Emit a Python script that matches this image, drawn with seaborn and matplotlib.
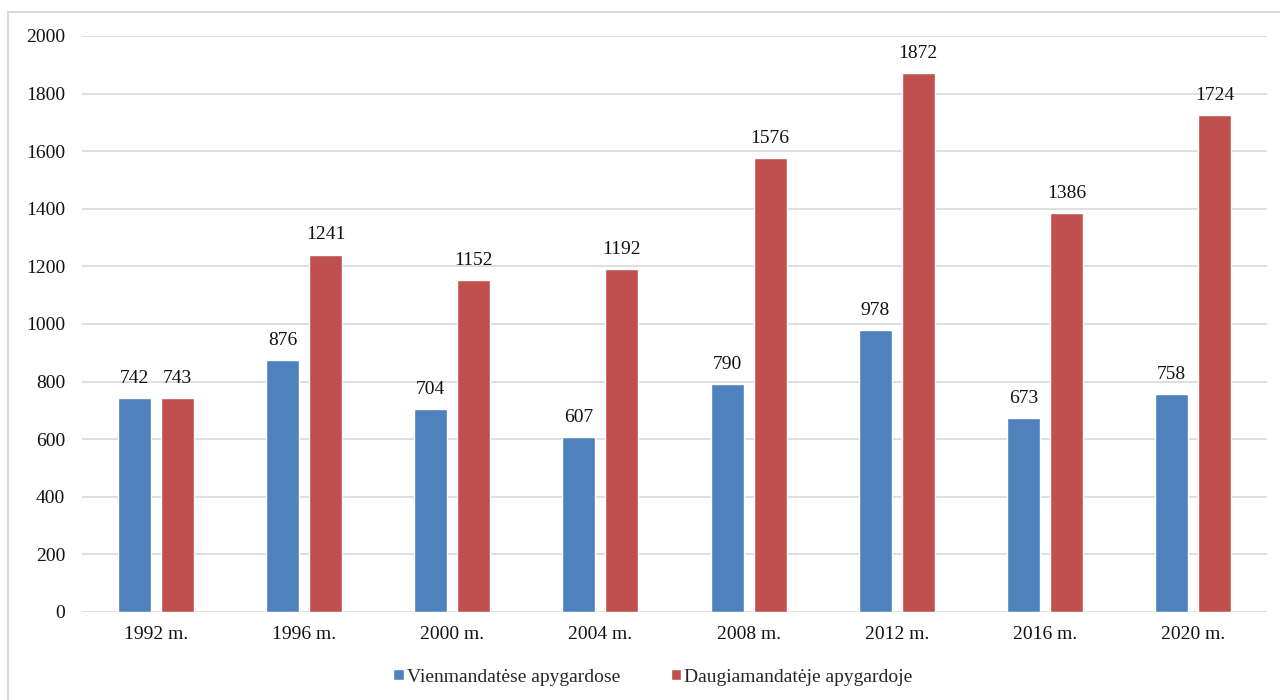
import numpy as np
import pandas as pd
import seaborn as sns
import matplotlib.pyplot as plt
from matplotlib.patches import Rectangle, Patch

# data
years = ['1992 m.', '1996 m.', '2000 m.', '2004 m.', '2008 m.', '2012 m.', '2016 m.', '2020 m.']
single = [742, 876, 704, 607, 790, 978, 673, 758]
multi = [743, 1241, 1152, 1192, 1576, 1872, 1386, 1724]
series = ['Vienmandatėse apygardose', 'Daugiamandatėje apygardoje']
colors = ['#4F81BD', '#C0504D']

df = pd.DataFrame({
    'year': years * 2,
    'value': single + multi,
    'series': [series[0]] * len(years) + [series[1]] * len(years),
})

sns.set_style('white')
plt.rcParams['font.family'] = ['Liberation Serif', 'DejaVu Serif']

fig = plt.figure(figsize=(12.8, 7), dpi=100)
# outer frame of the embedded chart
fig.patches.append(Rectangle((8 / 1280, -0.1), 1.2, 1 - 12 / 700 + 0.1, transform=fig.transFigure,
                             fill=False, edgecolor='#D9D9D9', lw=1.5, zorder=0))

ax = fig.add_axes([82 / 1280, 1 - 612 / 700, (1267 - 82) / 1280, (612 - 36) / 700])
sns.barplot(data=df, x='year', y='value', hue='series', palette=colors,
            width=0.58, gap=0.23, saturation=1, legend=False, ax=ax)

for c in ax.containers:
    ax.bar_label(c, padding=8, fontsize=14, color='#111111')

ax.set_ylim(0, 2000)
ax.set_xlim(-0.5, 7.5)
ax.set_yticks(range(0, 2001, 200))
ax.yaxis.grid(True, color='#D9D9D9', lw=1.2)
ax.set_axisbelow(True)
for s in ax.spines.values():
    s.set_visible(False)
ax.tick_params(axis='both', length=0, labelsize=14, colors='#111111')
ax.tick_params(axis='y', pad=12)
ax.tick_params(axis='x', pad=10)
ax.set_xlabel('')
ax.set_ylabel('')

handles = [Patch(facecolor=colors[i], label=series[i]) for i in range(2)]
fig.legend(handles=handles, loc='center', bbox_to_anchor=(0.51, 1 - 677 / 700), ncol=2,
           frameon=False, fontsize=14, handlelength=0.55, handleheight=0.55,
           handletextpad=0.15, columnspacing=2.6)

fig.savefig('out.png', dpi=100)
